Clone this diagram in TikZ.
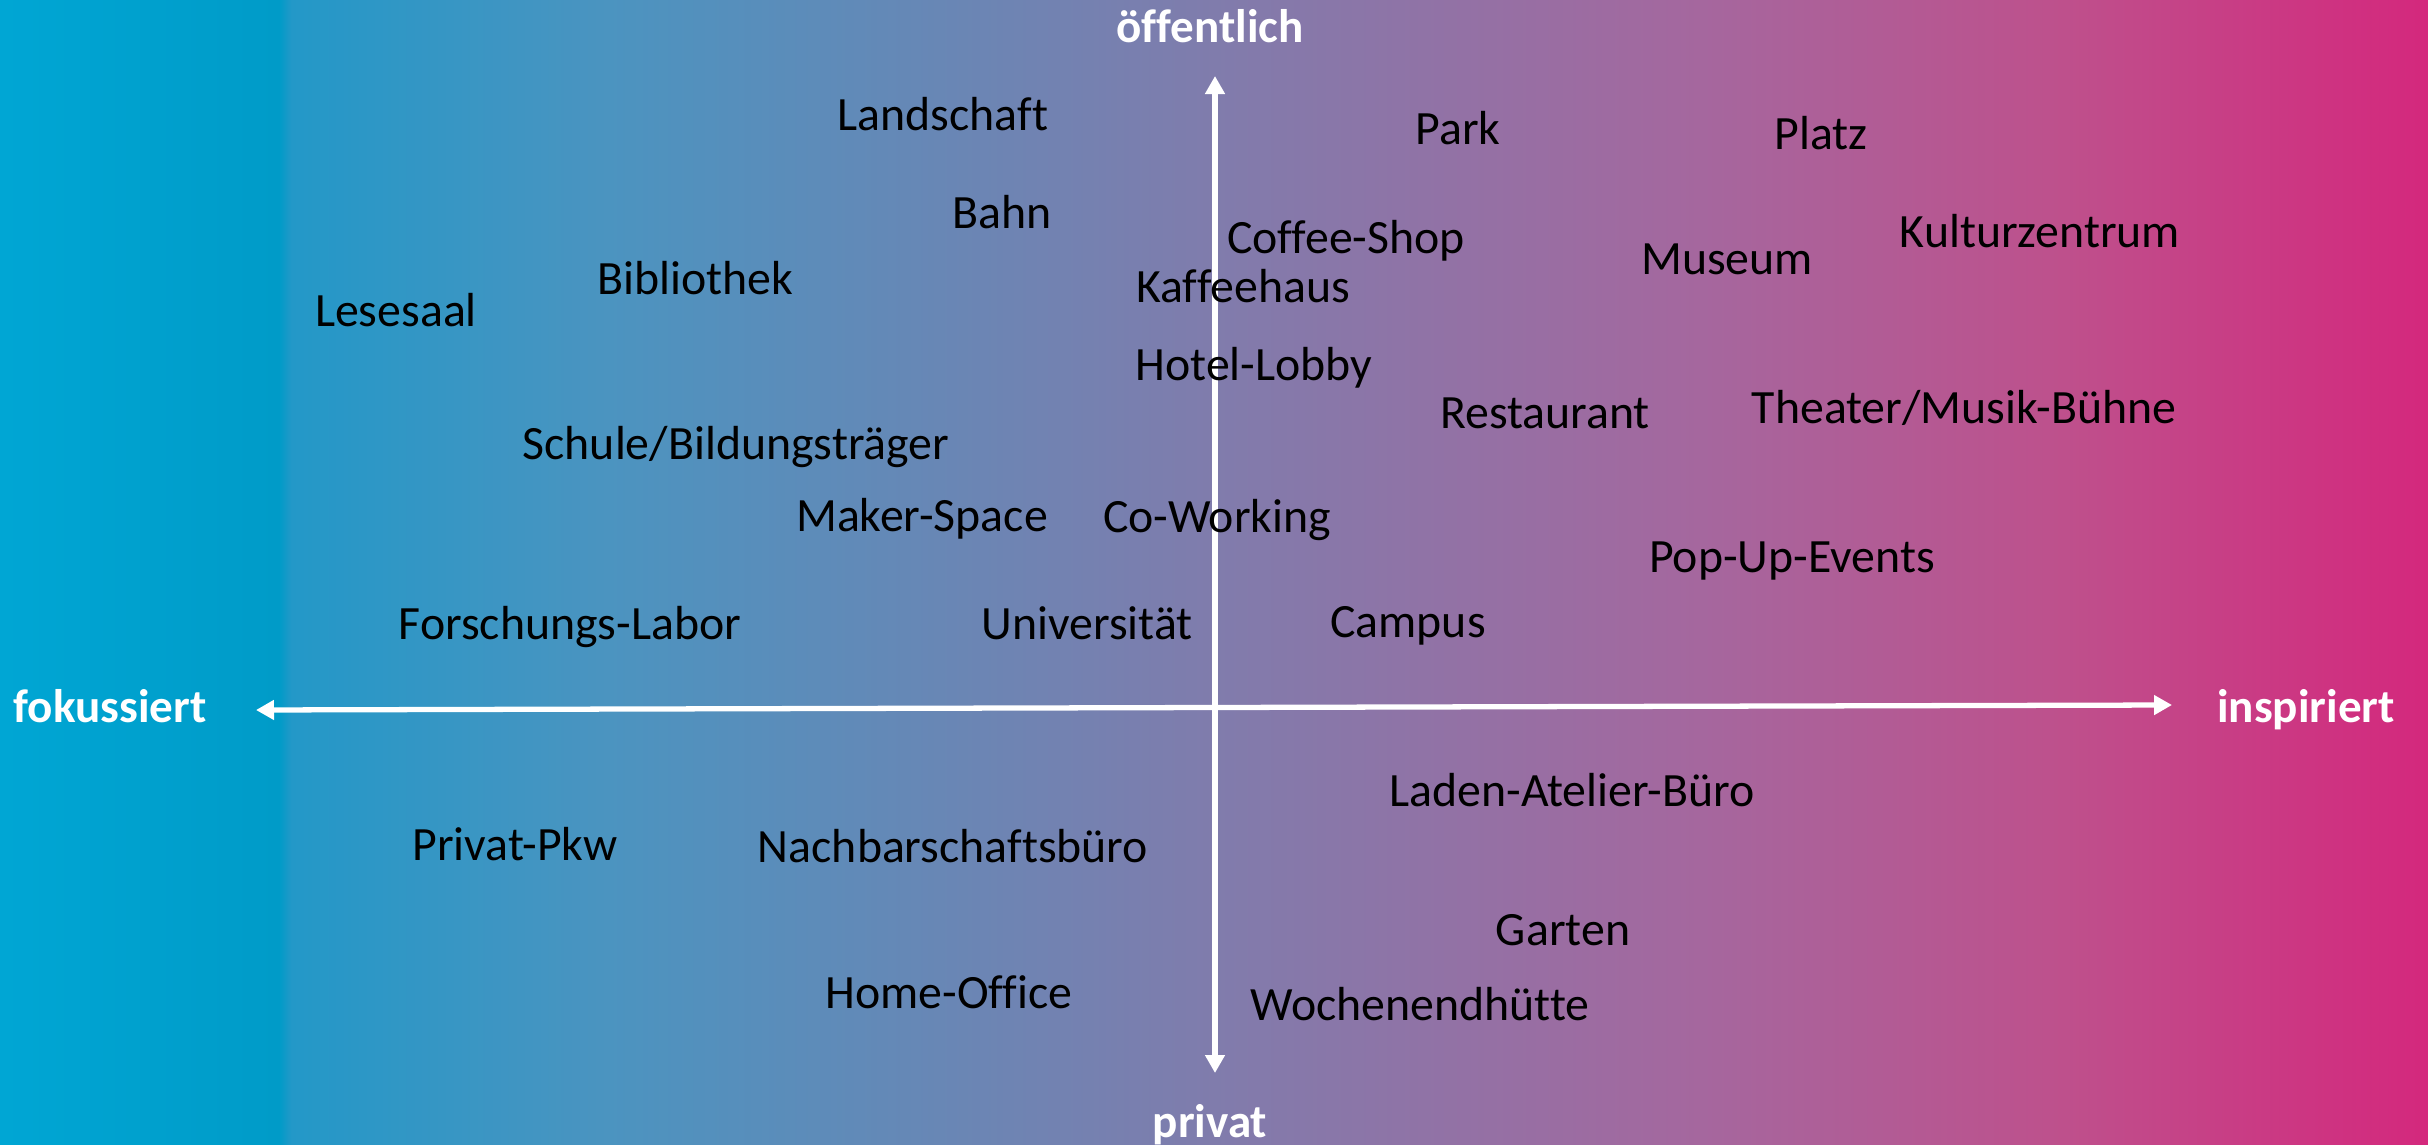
\documentclass[tikz,border=0pt]{standalone}
\usepackage{fontspec}
\setmainfont{Carlito}[Ligatures=NoCommon]
\usetikzlibrary{arrows.meta}

\pgfdeclarehorizontalshading{hintergrund}{100bp}{%
  rgb(0bp)=(0,.651,.831); rgb(25bp)=(0,.651,.831);
  rgb(30.75bp)=(0,.608,.784); rgb(31bp)=(.137,.596,.784);
  rgb(37.5bp)=(.294,.580,.753); rgb(50bp)=(.502,.486,.675);
  rgb(60bp)=(.647,.404,.620); rgb(67.5bp)=(.745,.314,.549);
  rgb(75bp)=(.831,.157,.490); rgb(100bp)=(.831,.157,.490)}

\tikzset{
  ort/.style={anchor=base, inner sep=0pt, font=\fontsize{13.6}{16}\selectfont},
  achse/.style={anchor=base, inner sep=0pt, text=white, font=\fontsize{13.4}{16}\selectfont\bfseries},
  pfeil/.style={white, line width=1.5pt, {Triangle[length=1.8mm,width=1.9mm]}-{Triangle[length=1.8mm,width=1.9mm]}}
}

\begin{document}
\begin{tikzpicture}[x=0.1mm, y=-0.1mm]
	\useasboundingbox (0,0) rectangle (2428,1145);
	\shade[shading=hintergrund] (0,0) rectangle (2428,1145);

	% Achsen
	\coordinate (west) at (256,710);
	\coordinate (ost) at (2172,705);
	\coordinate (nord) at (1215,76);
	\coordinate (sued) at (1215,1073);
	\draw[pfeil] (west) -- (ost);
	\draw[pfeil] (nord) -- (sued);

	\node[achse] (fokussiert) at (110,722) {fokussiert};
	\node[achse] (inspiriert) at (2306,722) {inspiriert};
	\node[achse] (oeffentlich) at (1210,43) {öffentlich};
	\node[achse] (privat) at (1210,1137) {privat};

	% Orte, oben
	\node[ort] (landschaft) at (943,130) {Landschaft};
	\node[ort] (park) at (1458,144) {Park};
	\node[ort] (platz) at (1821,149) {Platz};
	\node[ort] (bahn) at (1002,228) {Bahn};
	\node[ort] (coffeeshop) at (1346,253) {Coffee-Shop};
	\node[ort] (kulturzentrum) at (2040,247) {Kulturzentrum};
	\node[ort] (museum) at (1727,274) {Museum};
	\node[ort] (bibliothek) at (695,294) {Bibliothek};
	\node[ort] (kaffeehaus) at (1243,302) {Kaffeehaus};
	\node[ort] (lesesaal) at (396,326) {Lesesaal};
	\node[ort] (hotellobby) at (1254,380) {Hotel-Lobby};
	\node[ort] (restaurant) at (1545,428) {Restaurant};
	\node[ort] (theater) at (1964,423) {Theater/Musik-Bühne};
	\node[ort] (schule) at (736,459) {Schule/Bildungsträger};
	\node[ort] (makerspace) at (922,531) {Maker-Space};
	\node[ort] (coworking) at (1217,532) {Co-Working};
	\node[ort] (popup) at (1792,572) {Pop-Up-Events};
	\node[ort] (labor) at (570,639) {Forschungs-Labor};
	\node[ort] (uni) at (1087,639) {Universität};
	\node[ort] (campus) at (1408,637) {Campus};

	% Orte, unten
	\node[ort] (laden) at (1572,806) {Laden-Atelier-Büro};
	\node[ort] (pkw) at (515,860) {Privat-Pkw};
	\node[ort] (nachbarschaft) at (953,862) {Nachbarschaftsbüro};
	\node[ort] (garten) at (1563,945) {Garten};
	\node[ort] (homeoffice) at (949,1008) {Home-Office};
	\node[ort] (huette) at (1420,1020) {Wochenendhütte};
\end{tikzpicture}
\end{document}
